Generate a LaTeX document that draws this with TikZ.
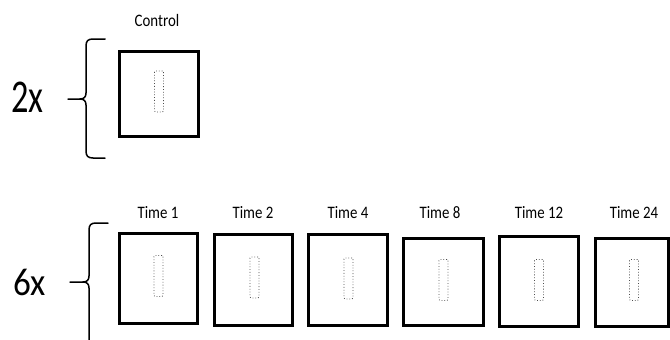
\documentclass[tikz,border=0pt]{standalone}
\usepackage{fontspec}
\usepackage{graphicx}
\setmainfont{Carlito}
\begin{document}
\begin{tikzpicture}[x=1pt,y=-1pt,
  sample/.style={draw=black,line width=3pt,inner sep=0pt},
  strip/.style={draw=black!70,dotted,line width=0.8pt,rounded corners=1pt,inner sep=0pt,minimum width=9pt,minimum height=41pt},
  lbl/.style={anchor=base,inner sep=0pt,font=\fontsize{17.5}{20}\selectfont},
  bigl/.style={anchor=base west,inner sep=0pt},
  bracestyle/.style={draw=black,line width=1.5pt,line cap=round}]
\useasboundingbox (0,0) rectangle (670,340);
% control
\node[sample,minimum width=79pt,minimum height=85pt] (c0) at (159,94) {};
\node[strip] (s0) at (159,91.5) {};
\node[lbl] (l0) at (157,27) {\scalebox{0.85}[1]{Control}};
% time boxes
\node[sample,minimum width=78pt,minimum height=90pt] (t1) at (158.5,278.5) {};
\node[sample,minimum width=78pt,minimum height=91pt] (t2) at (253.5,280) {};
\node[sample,minimum width=79pt,minimum height=91pt] (t4) at (348,280) {};
\node[sample,minimum width=80pt,minimum height=87pt] (t8) at (443.5,282) {};
\node[sample,minimum width=79pt,minimum height=90pt] (t12) at (539,281.5) {};
\node[sample,minimum width=73pt,minimum height=88pt] (t24) at (631.5,282.5) {};
\node[strip] (s1) at (158.5,276) {};
\node[strip] (s2) at (254.5,277.5) {};
\node[strip] (s4) at (348.5,278.5) {};
\node[strip] (s8) at (443.5,280) {};
\node[strip] (s12) at (539,280) {};
\node[strip] (s24) at (634,280) {};
\node[lbl] (l1) at (158,218) {\scalebox{0.85}[1]{Time 1}};
\node[lbl] (l2) at (253,218) {\scalebox{0.85}[1]{Time 2}};
\node[lbl] (l4) at (348,218) {\scalebox{0.85}[1]{Time 4}};
\node[lbl] (l8) at (440,218) {\scalebox{0.85}[1]{Time 8}};
\node[lbl] (l12) at (539,218) {\scalebox{0.85}[1]{Time 12}};
\node[lbl] (l24) at (634,218) {\scalebox{0.85}[1]{Time 24}};
% multipliers
\node[bigl,font=\fontsize{47}{50}\selectfont] (m2) at (11,112) {\scalebox{0.73}[1]{2x}};
\node[bigl,font=\fontsize{39}{42}\selectfont] (m6) at (13,295) {\scalebox{0.9}[1]{6x}};
% braces
\draw[bracestyle] (105,39) -- (93,39) .. controls (88,39) and (86,41) .. (86,46) -- (86,93) .. controls (86,97) and (84,99) .. (80,99) -- (68,99);
\draw[bracestyle] (80,99) .. controls (84,99) and (86,101) .. (86,105) -- (86,151) .. controls (86,156) and (88,158) .. (93,158) -- (105,158);
\draw[bracestyle] (108,223) -- (96,223) .. controls (91,223) and (89,225) .. (89,230) -- (89,276) .. controls (89,280) and (87,282) .. (83,282) -- (70,282);
\draw[bracestyle] (83,282) .. controls (87,282) and (89,284) .. (89,288) -- (89,345);
\end{tikzpicture}
\end{document}
